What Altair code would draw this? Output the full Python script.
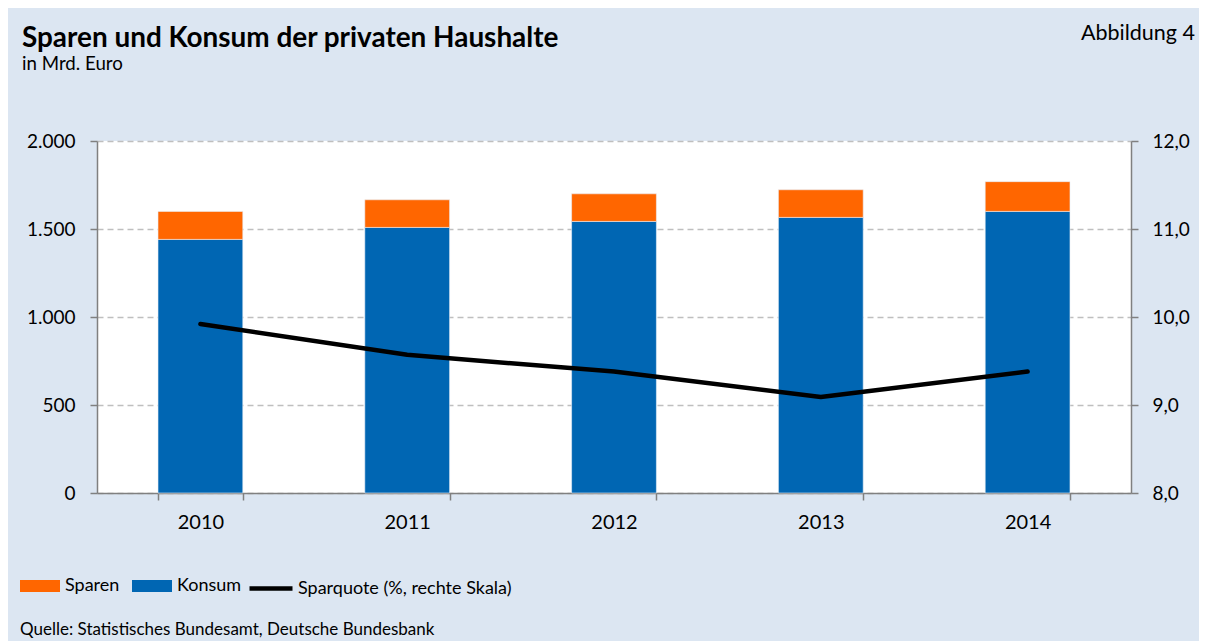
import altair as alt
import pandas as pd

years = ["2010", "2011", "2012", "2013", "2014"]
konsum = [1441, 1509, 1543, 1566, 1600]
sparen = [159, 157, 157, 157, 169]
sparquote = [9.92, 9.57, 9.38, 9.09, 9.38]

series_names = ["Sparen", "Konsum"]
line_name = "Sparquote (%, rechte Skala)"

rows = []
for i, y in enumerate(years):
    rows.append({"year": y, "series": "Konsum", "value": konsum[i], "ord": 0})
    rows.append({"year": y, "series": "Sparen", "value": sparen[i], "ord": 1})
bars_df = pd.DataFrame(rows)
line_df = pd.DataFrame({"year": years, "quote": sparquote, "series": [line_name] * len(years)})
one = pd.DataFrame({"a": [0]})

FONT = "Lato"
GRAY = "#808080"

x_enc = alt.X(
    "year:N",
    title=None,
    scale=alt.Scale(paddingInner=0.59, paddingOuter=0.295),
    axis=alt.Axis(labelAngle=0, tickBand="extent", tickSize=7, labelPadding=12,
                  labelFontSize=20, domainColor=GRAY, tickColor=GRAY,
                  domainWidth=1.5, tickWidth=1.5, grid=False),
)

bars = alt.Chart(bars_df).mark_bar(stroke="#e8eef7", strokeWidth=0.6).encode(
    x=x_enc,
    y=alt.Y("sum(value):Q", title=None, stack="zero",
            scale=alt.Scale(domain=[0, 2000], nice=False),
            axis=alt.Axis(values=[0, 500, 1000, 1500, 2000], tickSize=7, labelPadding=15,
                          labelExpr="replace(format(datum.value, ',d'), ',', '.')",
                          labelFontSize=19, grid=True, gridColor="#bfbfbf",
                          gridDash=[6, 4], gridWidth=1.3,
                          domainColor=GRAY, tickColor=GRAY, domainWidth=1.5, tickWidth=1.5)),
    color=alt.Color("series:N",
                    scale=alt.Scale(domain=series_names, range=["#ff6600", "#0066b3"]),
                    legend=alt.Legend(orient="none", legendX=-77, legendY=425,
                                      direction="horizontal", title=None,
                                      symbolType="M-1,-0.3H1V0.3H-1Z", symbolSize=1600,
                                      symbolStrokeWidth=0, labelFontSize=18, labelFont=FONT,
                                      labelOffset=5, columnPadding=12, labelColor="black",
                                      labelLimit=400)),
    order=alt.Order("ord:Q"),
)

line = alt.Chart(line_df).mark_line(strokeWidth=4.5, strokeCap="round", strokeJoin="round").encode(
    x=x_enc,
    y=alt.Y("quote:Q", title=None,
            scale=alt.Scale(domain=[8, 12], nice=False, zero=False),
            axis=alt.Axis(orient="right", values=[8, 9, 10, 11, 12], tickSize=7, labelPadding=14,
                          labelExpr="replace(format(datum.value, '.1f'), '.', ',')",
                          labelFontSize=19, grid=False,
                          domainColor=GRAY, tickColor=GRAY, domainWidth=1.5, tickWidth=1.5)),
    stroke=alt.Stroke("series:N", scale=alt.Scale(domain=[line_name], range=["black"]),
                      legend=alt.Legend(orient="none", legendX=150, legendY=423.5, title=None,
                                        symbolType="stroke", symbolSize=1849,
                                        symbolStrokeWidth=4.5, labelFontSize=18, labelFont=FONT,
                                        labelOffset=3, labelColor="black", labelLimit=400)),
)

def txt(text, x, y, size, weight="normal", align="left"):
    return alt.Chart(one).mark_text(text=text, fontSize=size, font=FONT, fontWeight=weight,
                                    align=align, baseline="alphabetic", color="black").encode(
        x=alt.value(x), y=alt.value(y))

title = txt("Sparen und Konsum  der privaten Haushalte", -75, -94, 27.9, "bold")
subtitle = txt("in Mrd. Euro", -75, -71, 18.7)
abb = txt("Abbildung 4", 1098, -101, 21.5, align="right")
source = txt("Quelle: Statistisches Bundesamt, Deutsche Bundesbank", -77, 494, 17)

chart = alt.layer(bars, line, title, subtitle, abb, source).resolve_scale(
    y="independent", color="independent", stroke="independent"
).properties(
    width=1034, height=352,
    autosize=alt.AutoSizeParams(type="none"),
    padding={"left": 89, "top": 133, "right": 68, "bottom": 148},
    background="#dce6f2",
).configure_view(
    fill="white", stroke=None
).configure_axis(
    labelFont=FONT, labelColor="black"
)

chart.save("out.html", embed_options={"renderer": "svg", "actions": False})
